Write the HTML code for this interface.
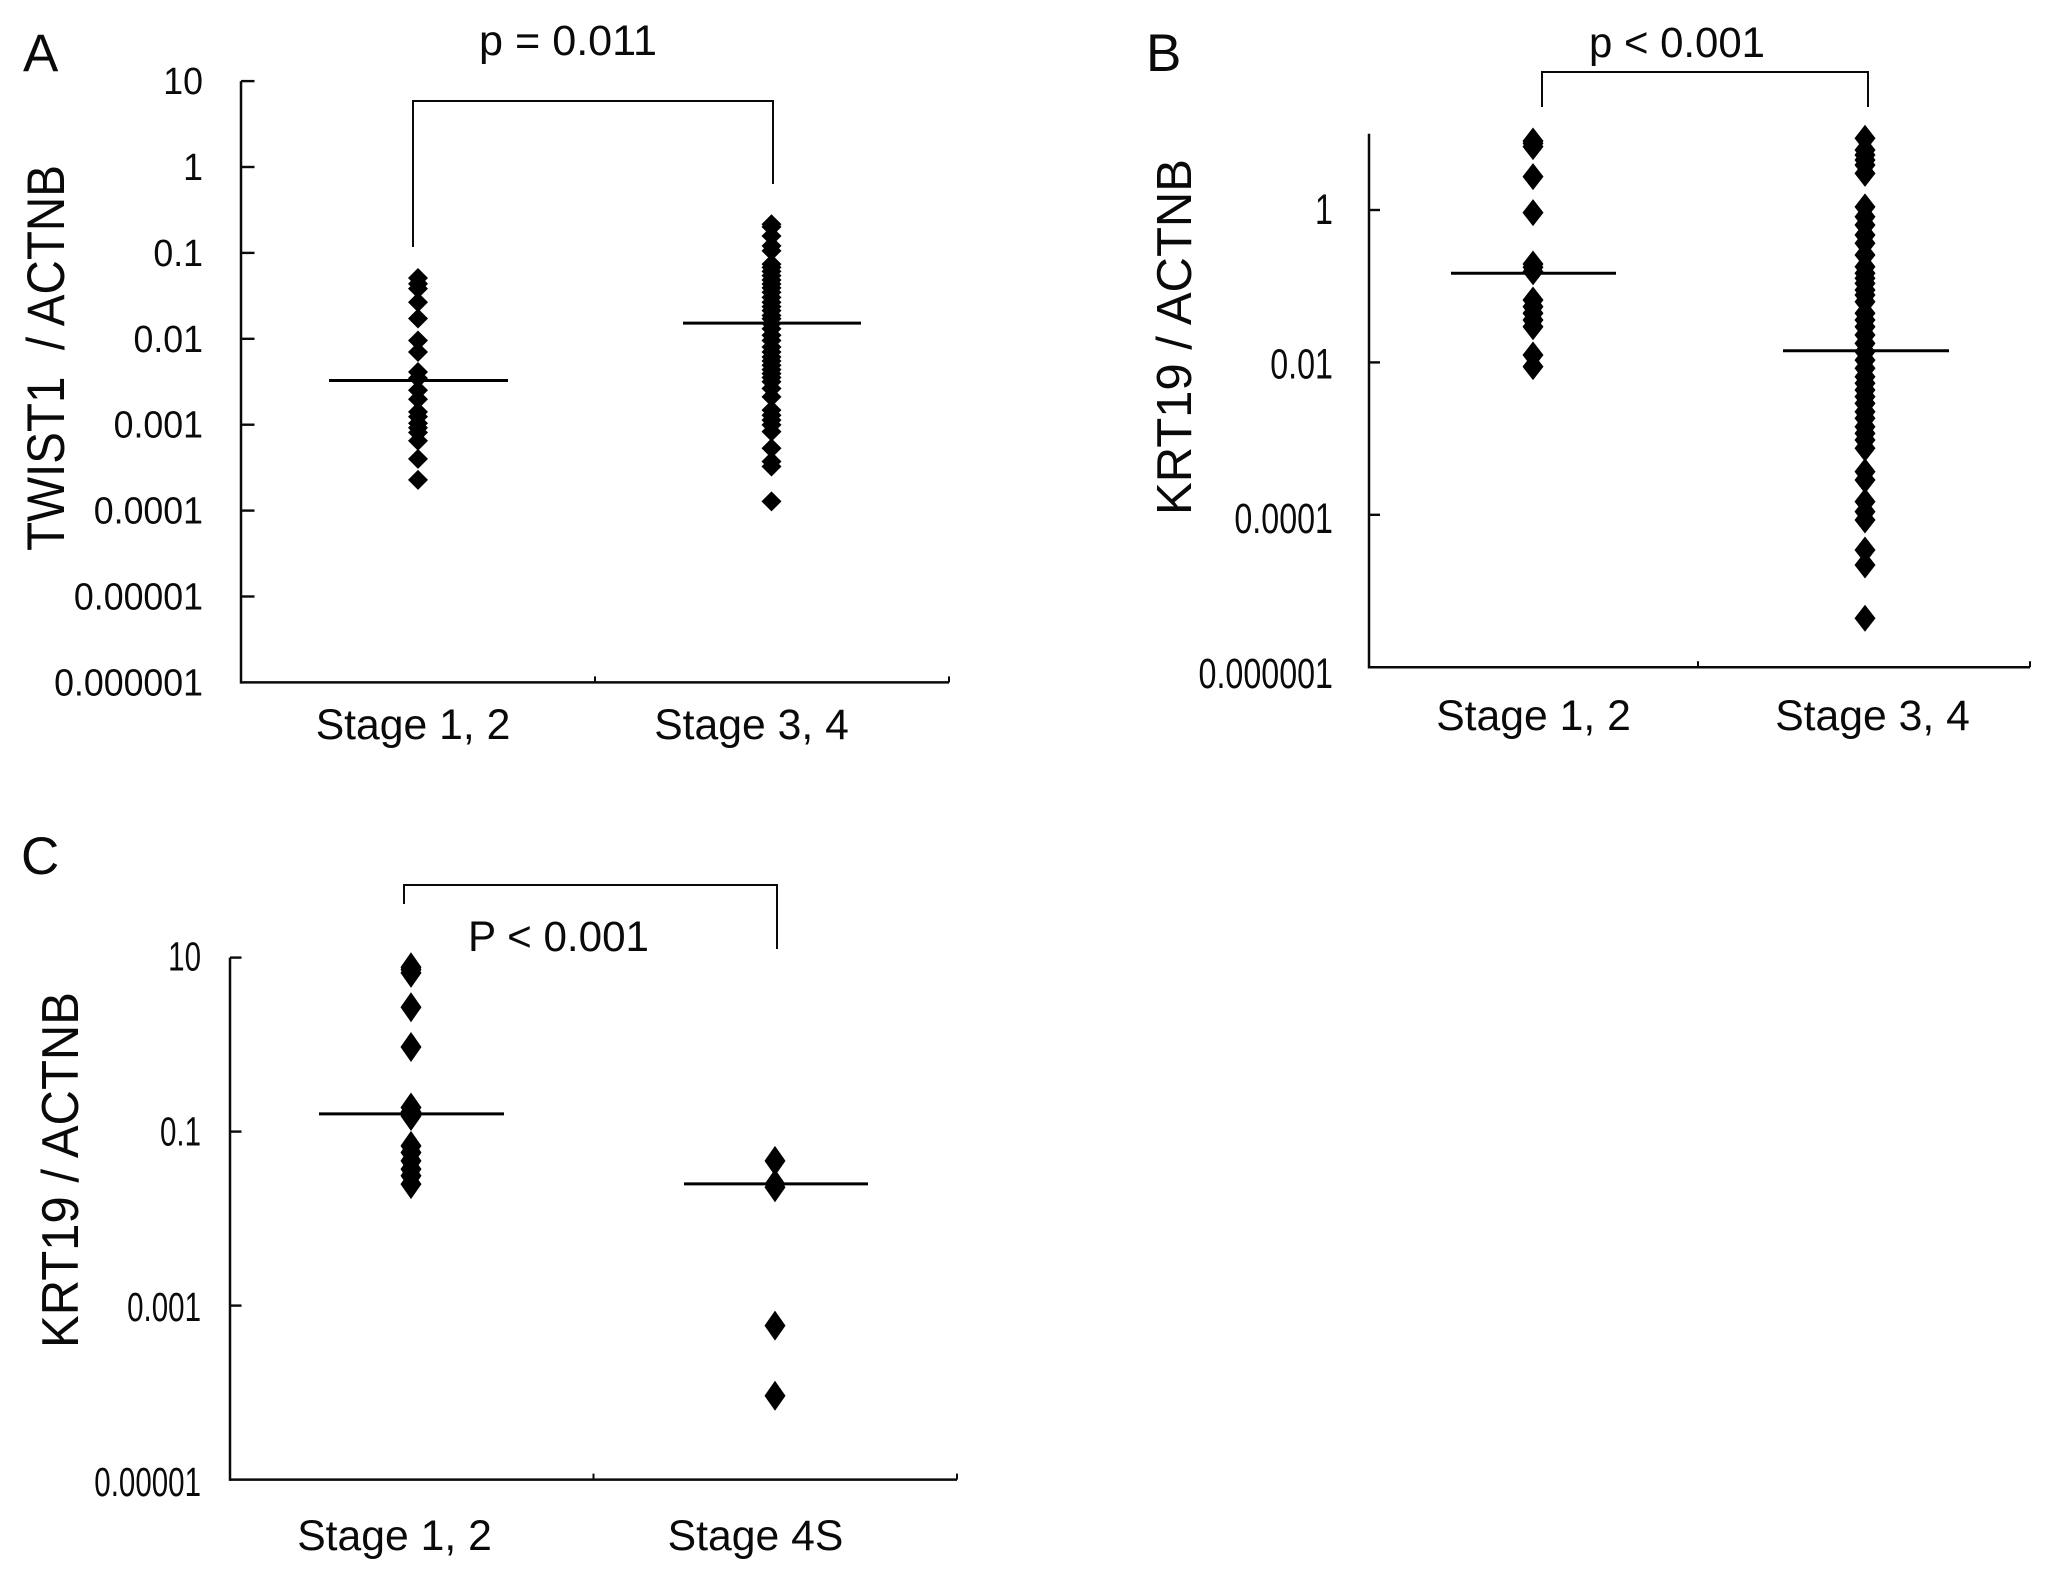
<!DOCTYPE html>
<html>
<head>
<meta charset="utf-8">
<title>Gene expression ratio by tumour stage</title>
<style>
  html, body { margin: 0; padding: 0; background: #fff; }
  svg { display: block; }
  text { font-family: "Liberation Sans", sans-serif; fill: #0a0a0a; }
</style>
</head>
<body>
<svg id="figure" xmlns="http://www.w3.org/2000/svg" width="2055" height="1583" viewBox="0 0 2055 1583"></svg>
<script>
// ---------- Panel A data ----------
const panelACategories = ['Stage 1, 2', 'Stage 3, 4'];
const panelATicks = [10, 1, 0.1, 0.01, 0.001, 0.0001, 0.00001, 0.000001];
const panelATickLabels = ['10', '1', '0.1', '0.01', '0.001', '0.0001', '0.00001', '0.000001'];
const panelAStage12 = [0.051, 0.0438, 0.0384, 0.0266, 0.01725, 0.00957, 0.00702, 0.00411, 0.00347, 0.00252, 0.00198, 0.00141, 0.00124, 0.00104, 0.00092, 0.00081, 0.00065, 0.0004, 0.000228];
const panelAStage34 = [0.2152, 0.201, 0.1574, 0.1209, 0.1057, 0.0741, 0.0678, 0.061, 0.0543, 0.0483, 0.0434, 0.0391, 0.0348, 0.0304, 0.0266, 0.0237, 0.0213, 0.0187, 0.0171, 0.015, 0.0131, 0.011, 0.00957, 0.00802, 0.00702, 0.00613, 0.00552, 0.00492, 0.00438, 0.00393, 0.00354, 0.00316, 0.00264, 0.00211, 0.00148, 0.00129, 0.00113, 0.000995, 0.00083, 0.000532, 0.000373, 0.000326, 0.000128];
const panelAMedians = [0.00327, 0.0152];

// ---------- Panel B data ----------
const panelBCategories = ['Stage 1, 2', 'Stage 3, 4'];
const panelBTicks = [1, 0.01, 0.0001, 0.000001];
const panelBTickLabels = ['1', '0.01', '0.0001', '0.000001'];
const panelBStage12 = [8.04, 7.5, 6.78, 2.74, 0.923, 0.1956, 0.177, 0.155, 0.0659, 0.0539, 0.0441, 0.036, 0.0294, 0.0125, 0.00879];
const panelBStage34 = [8.73, 6.13, 5.27, 4.53, 3.9, 3.03, 1.1, 0.817, 0.635, 0.47, 0.366, 0.257, 0.18, 0.148, 0.127, 0.109, 0.0891, 0.0767, 0.0626, 0.0441, 0.036, 0.0294, 0.0229, 0.0178, 0.0138, 0.0107, 0.00837, 0.00649, 0.00532, 0.00435, 0.00355, 0.0029, 0.00225, 0.00185, 0.00143, 0.00117, 0.000959, 0.000746, 0.000368, 0.000286, 0.000149, 0.00011, 0.0000855, 0.0000345, 0.0000219, 0.00000439];
const panelBMedians = [0.1477, 0.01424];

// ---------- Panel C data ----------
const panelCCategories = ['Stage 1, 2', 'Stage 4S'];
const panelCTicks = [10, 0.1, 0.001, 0.00001];
const panelCTickLabels = ['10', '0.1', '0.001', '0.00001'];
const panelCStage12 = [7.74, 7.28, 6.67, 2.69, 0.937, 0.189, 0.168, 0.151, 0.0685, 0.0575, 0.0461, 0.0371, 0.0311, 0.0249];
const panelCStage4S = [0.0461, 0.0249, 0.0229, 0.000589, 0.0000919];
const panelCMedians = [0.1596, 0.0251];

const NS = 'http://www.w3.org/2000/svg';
const figure = document.getElementById('figure');

function make(parent, tag, attrs, content) {
  const node = document.createElementNS(NS, tag);
  for (const key in attrs) node.setAttribute(key, attrs[key]);
  if (content !== undefined) node.textContent = content;
  parent.appendChild(node);
  return node;
}

function drawPanel(p) {
  const y = v => p.y0 - Math.log10(v) * p.decade;
  const labelY = v => p.labelY0 - Math.log10(v) * p.labelDecade;
  const axisColor = '#0a0a0a';

  const panel = make(figure, 'g', {});
  
  

  const letter = make(panel, 'text', { x: p.letterX, y: p.letterY, 'font-size': 53 }, p.letter);
  
  

  const title = make(panel, 'text', {
    transform: 'translate(' + p.titleX + ',' + p.titleY + ') rotate(-90)',
    'text-anchor': 'middle', 'font-size': p.titleSize,
    textLength: p.titleLength, lengthAdjust: 'spacingAndGlyphs'
  }, p.title);
  
  

  const yBottom = y(p.minValue);
  const yTop = y(p.maxValue);

  const yAxis = make(panel, 'line', { x1: p.axisX, x2: p.axisX, y1: yTop, y2: yBottom + 1.25, stroke: axisColor, 'stroke-width': 2.5 });
  
  

  const xAxis = make(panel, 'line', { x1: p.axisX, x2: p.axisEnd, y1: yBottom, y2: yBottom, stroke: axisColor, 'stroke-width': 2.5 });
  
  

  [p.axisMid, p.axisEnd].forEach(tx => {
    const xTick = make(panel, 'line', { x1: tx, x2: tx, y1: yBottom, y2: yBottom - 6, stroke: axisColor, 'stroke-width': 2 });
    
    
  });

  p.ticks.forEach((t, i) => {
    if (t !== p.minValue) {
      const yTick = make(panel, 'line', { x1: p.axisX, x2: p.axisX + p.tickLen, y1: y(t), y2: y(t), stroke: axisColor, 'stroke-width': 2.4 });
      
      
    }
    const label = make(panel, 'text', {
      transform: 'translate(' + p.labelRight + ',' + labelY(t) + ') scale(' + p.labelScale + ',1)',
      'text-anchor': 'end', 'font-size': p.labelSize
    }, p.tickLabels[i]);
    
    
  });

  p.categories.forEach((c, i) => {
    const cat = make(panel, 'text', { x: p.catX[i], y: p.catY, 'text-anchor': 'middle', 'font-size': 42.7 }, c);
    
    
  });

  p.series.forEach((values, i) => {
    const group = make(panel, 'g', {});
    
    
    const cx = p.seriesX[i];
    values.forEach(v => {
      const cy = y(v);
      const pts = [[cx, cy - p.halfH], [cx + p.halfW, cy], [cx, cy + p.halfH], [cx - p.halfW, cy]];
      const mark = make(group, 'polygon', { points: pts.map(q => q.join(',')).join(' '), fill: '#000' });
      
      
    });
    const my = y(p.medians[i]);
    const median = make(panel, 'line', { x1: p.medianX[i][0], x2: p.medianX[i][1], y1: my, y2: my, stroke: '#000', 'stroke-width': 3 });
    
    
  });

  const b = p.bracket;
  const bracket = make(panel, 'polyline', {
    points: b.left + ',' + b.leftBottom + ' ' + b.left + ',' + b.top + ' ' + b.right + ',' + b.top + ' ' + b.right + ',' + b.rightBottom,
    fill: 'none', stroke: '#0a0a0a', 'stroke-width': 2
  });
  
  

  const pv = make(panel, 'text', { x: p.pX, y: p.pY, 'font-size': 43, textLength: p.pLength, lengthAdjust: 'spacingAndGlyphs' }, p.pText);
  
  
}

drawPanel({
  id: 'a', letter: 'A', letterX: 23, letterY: 71,
  title: 'TWIST1\u00a0\u00a0/ ACTNB', titleX: 64, titleY: 358, titleSize: 53, titleLength: 386,
  y0: 167, decade: 85.9, maxValue: 10, minValue: 0.000001,
  labelY0: 180, labelDecade: 85.9, labelRight: 203, labelSize: 38, labelScale: 0.94,
  axisX: 241, axisEnd: 949, axisMid: 595, tickLen: 13.5,
  ticks: panelATicks, tickLabels: panelATickLabels,
  categories: panelACategories, catX: [413, 751.5], catY: 739,
  series: [panelAStage12, panelAStage34], medians: panelAMedians,
  seriesX: [418, 771.5], medianX: [[329, 508], [683, 861]], halfW: 10, halfH: 10,
  bracket: { left: 413, right: 773, top: 101, leftBottom: 247, rightBottom: 184 },
  pText: 'p = 0.011', pX: 479, pY: 55, pLength: 178
});

drawPanel({
  id: 'b', letter: 'B', letterX: 1146, letterY: 71,
  title: 'KRT19 / ACTNB', titleX: 1191, titleY: 337, titleSize: 49, titleLength: 356,
  y0: 210, decade: 76.2, maxValue: 10, minValue: 0.000001,
  labelY0: 224, labelDecade: 77.3, labelRight: 1333, labelSize: 43, labelScale: 0.75,
  axisX: 1369, axisEnd: 2030, axisMid: 1698, tickLen: 11,
  ticks: panelBTicks, tickLabels: panelBTickLabels,
  categories: panelBCategories, catX: [1533.5, 1872.5], catY: 730,
  series: [panelBStage12, panelBStage34], medians: panelBMedians,
  seriesX: [1533, 1865], medianX: [[1451, 1616], [1783, 1949]], halfW: 10.5, halfH: 13.5,
  bracket: { left: 1542, right: 1868, top: 72, leftBottom: 107, rightBottom: 107 },
  pText: 'p < 0.001', pX: 1589, pY: 57, pLength: 176
});

drawPanel({
  id: 'c', letter: 'C', letterX: 21, letterY: 874,
  title: 'KRT19 / ACTNB', titleX: 78, titleY: 1170, titleSize: 52, titleLength: 356,
  y0: 1044.6, decade: 87, maxValue: 10, minValue: 0.00001,
  labelY0: 1058, labelDecade: 87.6, labelRight: 201, labelSize: 41, labelScale: 0.72,
  axisX: 230, axisEnd: 957, axisMid: 593.5, tickLen: 11.5,
  ticks: panelCTicks, tickLabels: panelCTickLabels,
  categories: panelCCategories, catX: [394.5, 755.5], catY: 1550,
  series: [panelCStage12, panelCStage4S], medians: panelCMedians,
  seriesX: [411, 775], medianX: [[319, 504], [684, 868]], halfW: 10.5, halfH: 15,
  bracket: { left: 404, right: 777, top: 885, leftBottom: 904, rightBottom: 949 },
  pText: 'P < 0.001', pX: 468, pY: 951, pLength: 181
});
</script>
</body>
</html>
